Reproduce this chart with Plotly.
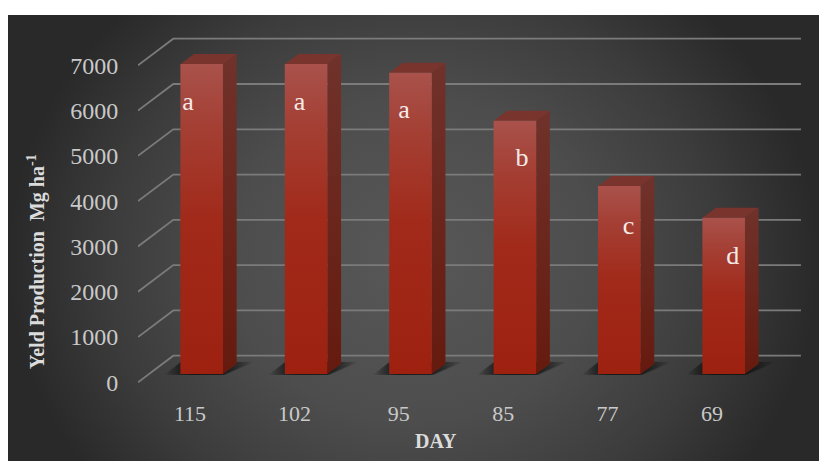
import plotly.graph_objects as go

# Yield by harvest day
days = ["115", "102", "95", "85", "77", "69"]
yield_mg_ha = [6845, 6845, 6652, 5593, 4151, 3451]
groups = ["a", "a", "a", "b", "c", "d"]
y_ticks = [0, 1000, 2000, 3000, 4000, 5000, 6000, 7000]

# Oblique projection of the box: x in category units, y in value units
WALL_DX, WALL_DY = 0.338, 587      # front edge of the floor to the back wall
BAR_DX, BAR_DY = 0.131, 221        # depth of one bar
BAR_SHIFT, BAR_LIFT = 0.112, 183   # bar front face relative to the floor's front edge
BAR_HALF = 0.204
X_MIN, X_MAX, Y_MIN, Y_MAX = -0.498, 6.025, -214, 8000
GRID_END = 5.514
GROUP_SHIFT = [-0.02, 0.05, 0.05, 0.18, 0.2, 0.2]
GROUP_DROP = [861, 868, 846, 846, 905, 868]

FRONT = [[0, "#9e2110"], [0.5, "#a12a1a"], [0.8, "#a43f34"], [1, "#a9524b"]]
SIDE = [[0, "#661a0e"], [1, "#70322b"]]
SHADOW_OUTER = [[0, "rgba(10,12,12,0)"], [0.3, "rgba(10,12,12,0.45)"],
                [0.65, "rgba(10,12,12,0.4)"], [1, "rgba(10,12,12,0)"]]
SHADOW_INNER = [[0, "rgba(10,12,12,0)"], [0.3, "rgba(10,12,12,0.8)"],
                [0.62, "rgba(10,12,12,0.7)"], [1, "rgba(10,12,12,0)"]]
BACKDROP = [[0, "#585858"], [0.45, "#4d4d4d"], [0.75, "#3c3c3c"], [1, "#292929"]]
SERIF = "Liberation Serif"

fig = go.Figure()

# Panel backdrop lives on its own axes, beneath the chart axes; the rectangle
# overshoots the panel vertically so the elliptical glow reaches past its edges
fig.add_trace(go.Scatter(
    x=[0, 1, 1, 0, 0], y=[-0.35, -0.35, 1.25, 1.25, -0.35], mode="lines", line_width=0,
    fill="toself", hoverinfo="skip", showlegend=False,
    fillgradient=dict(type="radial", colorscale=BACKDROP),
    xaxis="x", yaxis="y"))


def add_poly(xs, ys, **kw):
    fig.add_trace(go.Scatter(x=xs, y=ys, mode="lines", line_width=0, fill="toself",
                             hoverinfo="skip", showlegend=False,
                             xaxis="x2", yaxis="y2", **kw))


def add_shadow(left, right, base, bleed, scale):
    # Skewed patch on the floor, fading out sideways
    x0, x1 = left - 0.15 - bleed, right + BAR_DX * 2.2 + bleed
    low, high = base - 15 - bleed * 300, base + BAR_DY * 1.2 + bleed * 300
    add_poly([x0, right + bleed, x1, left + bleed, x0], [low, low, high, high, low],
             fillgradient=dict(type="horizontal", colorscale=scale, start=x0, stop=x1))


# Back wall and left wall gridlines
for v in y_ticks:
    fig.add_trace(go.Scatter(
        x=[X_MIN, X_MIN + WALL_DX, GRID_END + WALL_DX],
        y=[v, v + WALL_DY, v + WALL_DY],
        mode="lines", line=dict(color="#7b7b7b", width=1.8),
        hoverinfo="skip", showlegend=False, xaxis="x2", yaxis="y2"))

for i, val in enumerate(yield_mg_ha):
    left = i + BAR_SHIFT - BAR_HALF
    right = i + BAR_SHIFT + BAR_HALF
    base = BAR_LIFT
    top = BAR_LIFT + val

    # Contact shadow on the floor
    add_shadow(left, right, base, 0.02, SHADOW_OUTER)
    add_shadow(left, right, base, 0.0, SHADOW_INNER)
    # Side face
    add_poly([right, right + BAR_DX, right + BAR_DX, right, right],
             [base, base + BAR_DY, top + BAR_DY, top, base],
             fillgradient=dict(type="vertical", colorscale=SIDE,
                               start=base, stop=top + BAR_DY))
    # Top face
    add_poly([left, right, right + BAR_DX, left + BAR_DX, left],
             [top, top, top + BAR_DY, top + BAR_DY, top],
             fillcolor="#79342e")
    # Front face
    add_poly([left, right, right, left, left],
             [base, base, top, top, base],
             fillgradient=dict(type="vertical", colorscale=FRONT, start=base, stop=top))

# Mean-separation letters
fig.add_trace(go.Scatter(
    x=[i + GROUP_SHIFT[i] for i in range(len(groups))],
    y=[BAR_LIFT + v - GROUP_DROP[i] for i, v in enumerate(yield_mg_ha)],
    text=groups, mode="text", textposition="middle center",
    textfont=dict(family=SERIF, size=26, color="#f6ebe7"),
    hoverinfo="skip", showlegend=False, xaxis="x2", yaxis="y2"))

fig.update_layout(
    width=819, height=461, margin=dict(l=0, r=0, t=0, b=0, autoexpand=False),
    paper_bgcolor="white", plot_bgcolor="rgba(0,0,0,0)", showlegend=False,
    font=dict(family=SERIF),
    xaxis=dict(domain=[8 / 819, 1], range=[0, 1], visible=False, fixedrange=True),
    yaxis=dict(domain=[0, 446 / 461], range=[0, 1], visible=False, fixedrange=True),
    xaxis2=dict(
        domain=[138 / 819, 1], range=[X_MIN, X_MAX], anchor="y2",
        tickmode="array", tickvals=list(range(len(days))), ticktext=days,
        showgrid=False, zeroline=False, showline=False,
        ticks="outside", ticklen=2, tickcolor="rgba(0,0,0,0)",
        tickfont=dict(family=SERIF, size=22, color="#c9c9c9")),
    yaxis2=dict(
        domain=[(461 - 392) / 461, (461 - 20) / 461], range=[Y_MIN, Y_MAX], anchor="x2",
        tickmode="array", tickvals=y_ticks,
        showgrid=False, zeroline=False, showline=False,
        ticks="outside", ticklen=14, tickcolor="rgba(0,0,0,0)",
        tickfont=dict(family=SERIF, size=24, color="#c9c9c9")),
    annotations=[
        dict(text="<b>DAY</b>", xref="paper", yref="paper", x=436 / 819, y=(461 - 441) / 461,
             xanchor="center", yanchor="middle", showarrow=False,
             font=dict(family=SERIF, size=20, color="#dcdcdc")),
        dict(text="<b>Yeld Production  Mg ha<sup>-1</sup></b>", xref="paper", yref="paper",
             x=36 / 819, y=(461 - 262) / 461, textangle=-90,
             xanchor="center", yanchor="middle", showarrow=False,
             font=dict(family=SERIF, size=20, color="#dcdcdc")),
    ],
)

fig.write_html("out.html")
